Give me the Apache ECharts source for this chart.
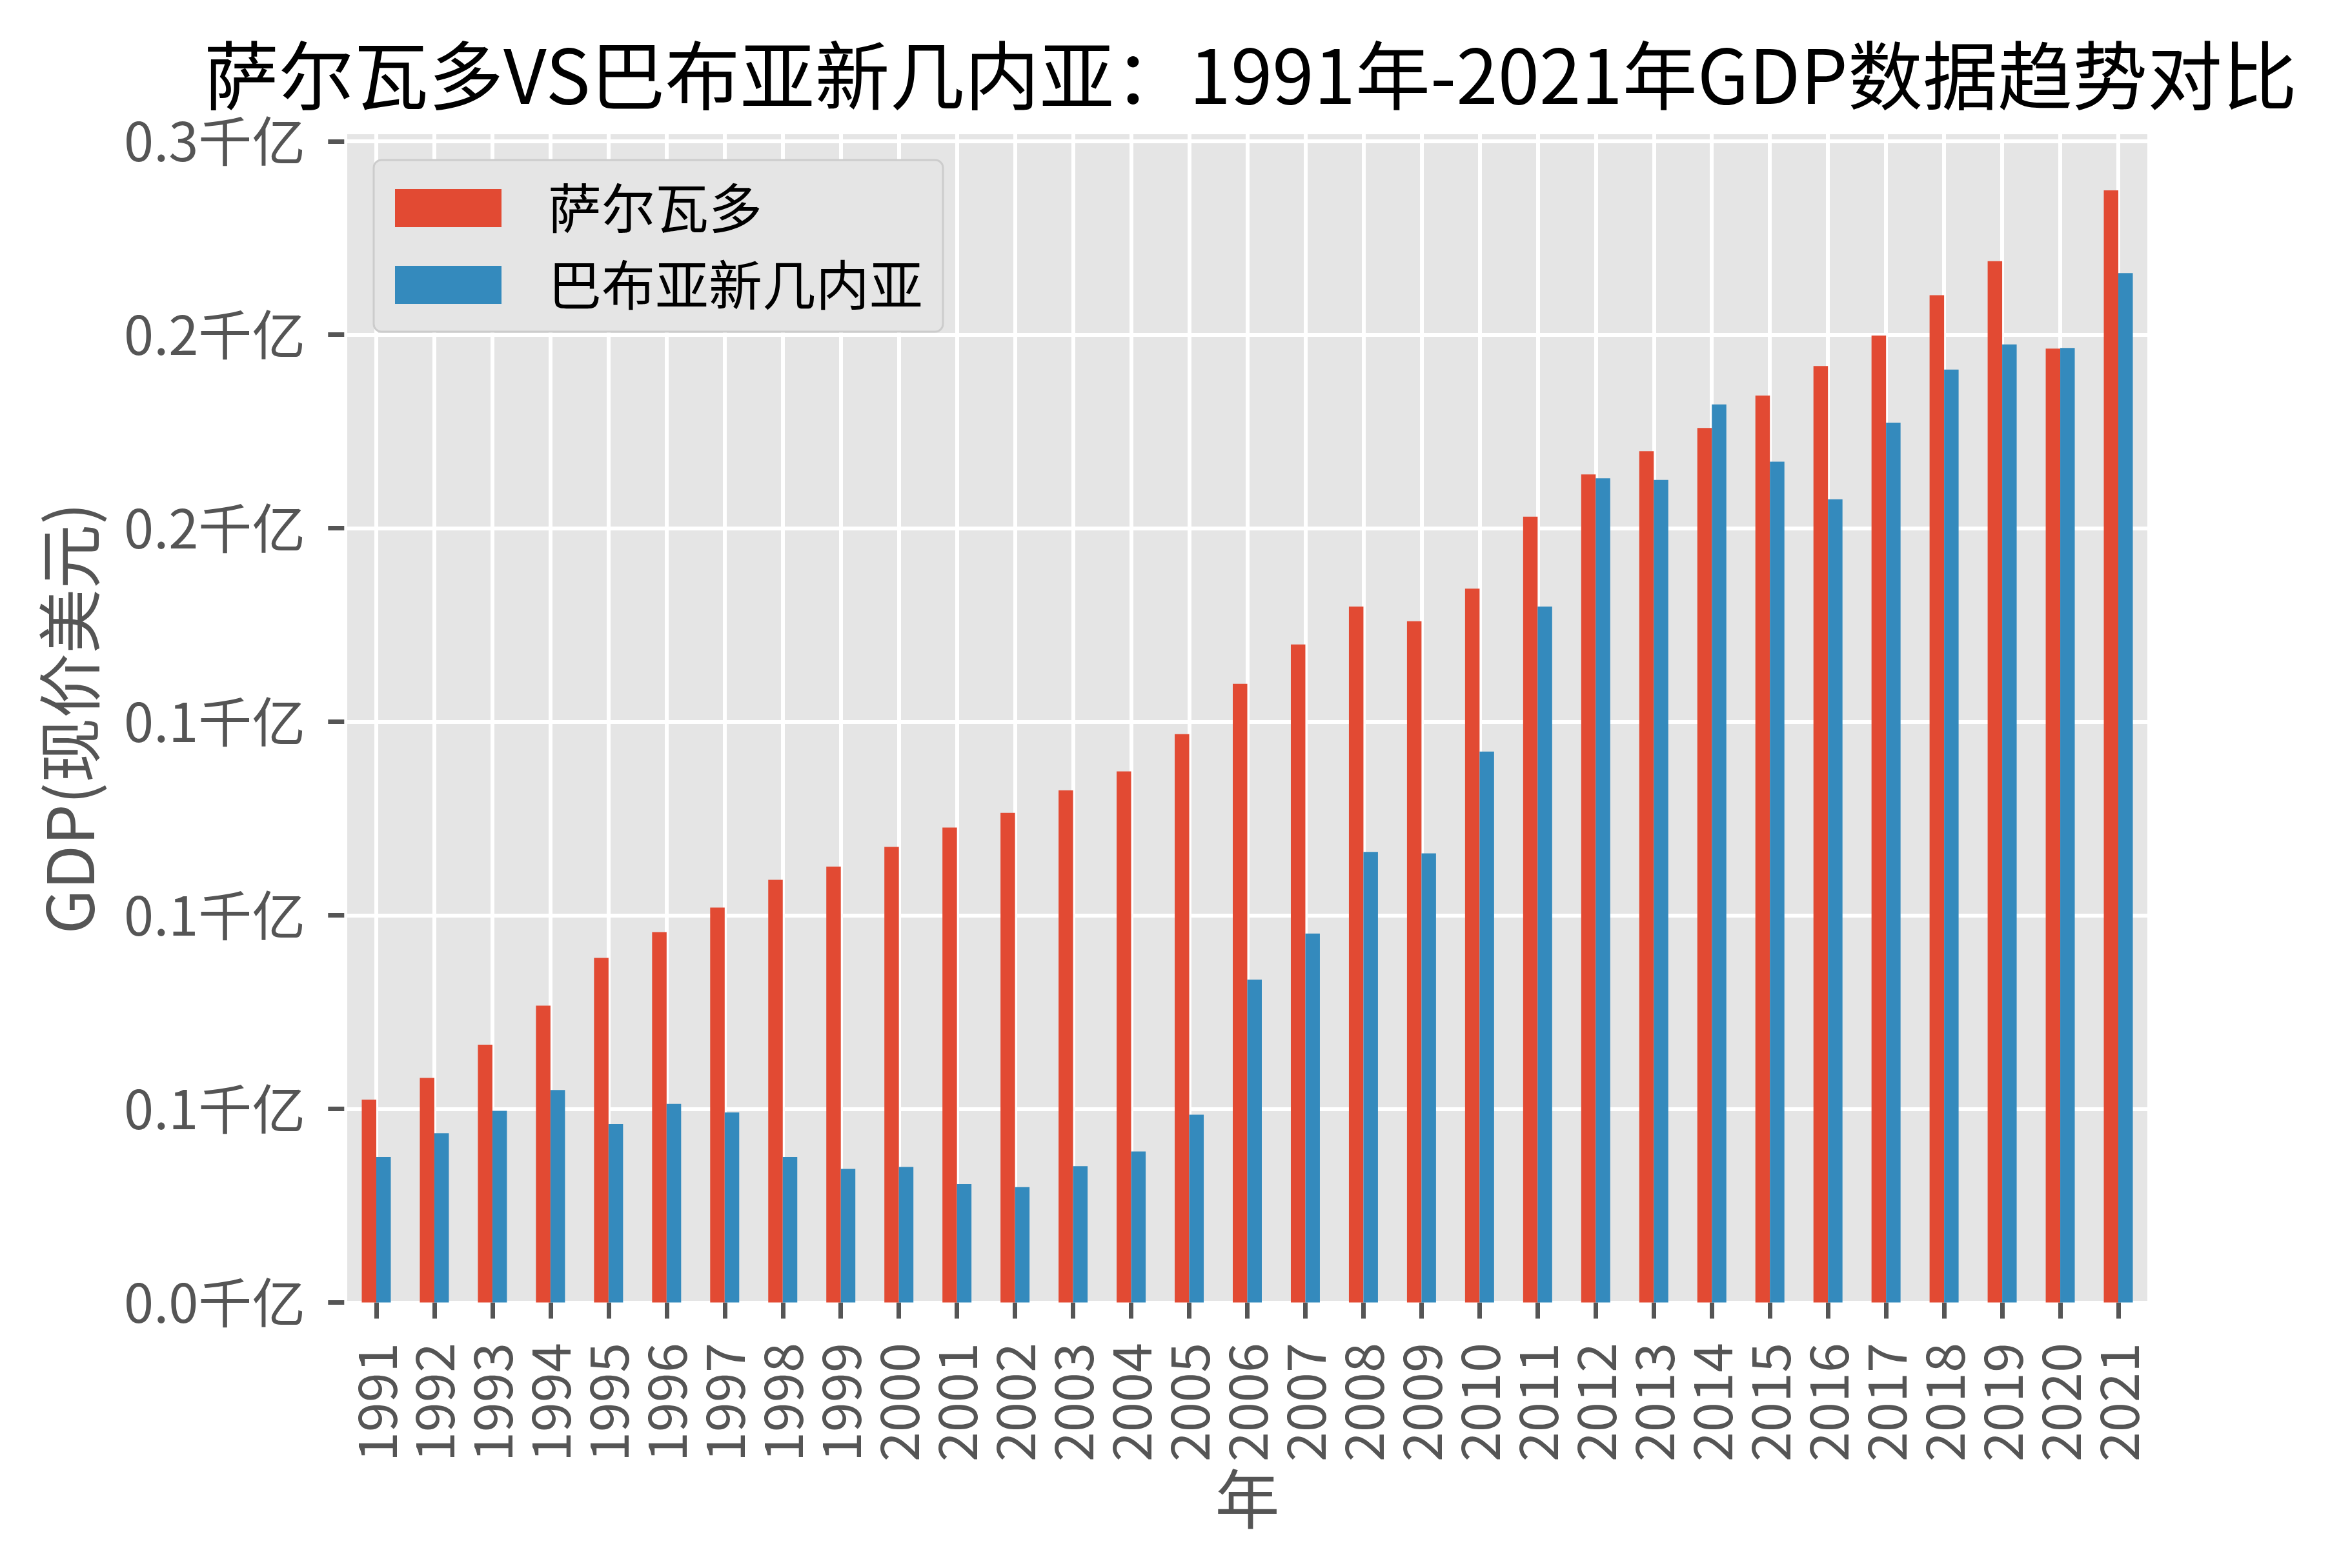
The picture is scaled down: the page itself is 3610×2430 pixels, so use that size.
<!DOCTYPE html>
<html>
<head>
<meta charset="utf-8">
<script src="https://cdn.jsdelivr.net/npm/echarts@6/dist/echarts.min.js"></script>
<style>
html,body{margin:0;padding:0;background:#fff;}
#chart{width:3610px;height:2430px;}
</style>
</head>
<body>
<div id="chart"></div>
<script>
// ---- data (GDP in billions of current USD) ----
const YEARS = ['1991','1992','1993','1994','1995','1996','1997','1998','1999','2000','2001','2002','2003','2004','2005','2006','2007','2008','2009','2010','2011','2012','2013','2014','2015','2016','2017','2018','2019','2020','2021'];
const EL_SALVADOR = [5.24, 5.80, 6.66, 7.67, 8.90, 9.57, 10.20, 10.92, 11.26, 11.77, 12.27, 12.65, 13.23, 13.72, 14.68, 15.98, 17.00, 17.98, 17.60, 18.44, 20.30, 21.39, 21.99, 22.59, 23.43, 24.19, 24.98, 26.02, 26.90, 24.64, 28.73];
const PNG = [3.76, 4.37, 4.95, 5.49, 4.61, 5.13, 4.91, 3.76, 3.45, 3.50, 3.06, 2.98, 3.52, 3.90, 4.85, 8.34, 9.53, 11.64, 11.60, 14.23, 17.98, 21.29, 21.25, 23.20, 21.72, 20.75, 22.73, 24.10, 24.75, 24.66, 26.59];
const SERIES_NAMES = ['萨尔瓦多', '巴布亚新几内亚'];
const Y_TICKS = [0, 5, 10, 15, 20, 25, 30];
const Y_LABELS = ['0.0千亿', '0.1千亿', '0.1千亿', '0.1千亿', '0.2千亿', '0.2千亿', '0.3千亿'];
const TITLE = '萨尔瓦多VS巴布亚新几内亚：1991年-2021年GDP数据趋势对比';
const X_NAME = '年';
const Y_NAME = 'GDP(现价美元)';

const FONT = '"Noto Sans CJK SC", "Noto Sans", sans-serif';
const chart = echarts.init(document.getElementById('chart'), null, {renderer: 'canvas'});

const option = {
  backgroundColor: '#ffffff',
  animation: false,
  title: {
    text: TITLE,
    left: 316,
    top: 57,
    padding: 0,
    textStyle: {fontSize: 116, fontWeight: 'normal', color: '#000000', fontFamily: FONT, lineHeight: 120}
  },
  legend: {
    orient: 'vertical',
    left: 579,
    top: 248,
    padding: [33, 31, 31, 33],
    itemWidth: 165,
    itemHeight: 59,
    itemGap: 36,
    icon: 'rect',
    backgroundColor: '#e5e5e5',
    borderColor: '#cccccc',
    borderWidth: 3,
    borderRadius: 12,
    textStyle: {fontSize: 83, color: '#000000', fontFamily: FONT, lineHeight: 59, padding: [0, 0, 0, 67]},
    data: SERIES_NAMES
  },
  grid: {
    left: 538, right: 283, top: 208, bottom: 411.5,
    show: true, backgroundColor: '#e5e5e5', borderWidth: 0,
    containLabel: false
  },
  xAxis: {
    type: 'category',
    data: YEARS,
    boundaryGap: true,
    offset: 4.5,
    axisLine: {show: false},
    axisTick: {show: true, alignWithLabel: true, length: 25, lineStyle: {color: '#555555', width: 7}},
    axisLabel: {rotate: 90, margin: 58, interval: 0, fontSize: 83, color: '#555555', fontFamily: FONT},
    splitLine: {show: true, alignWithLabel: true, interval: 0, lineStyle: {color: '#ffffff', width: 6}},
    name: X_NAME,
    nameLocation: 'middle',
    nameGap: 248,
    nameTextStyle: {fontSize: 100, color: '#555555', fontFamily: FONT}
  },
  yAxis: {
    type: 'value',
    min: 0,
    max: 30.18,
    interval: 5,
    offset: 4.7,
    axisLine: {show: false},
    axisTick: {show: true, customValues: Y_TICKS, length: 25, lineStyle: {color: '#555555', width: 7}},
    axisLabel: {
      customValues: Y_TICKS,
      margin: 60, fontSize: 83, color: '#555555', fontFamily: FONT,
      formatter: function (v) { const i = Y_TICKS.indexOf(v); return i >= 0 ? Y_LABELS[i] : ''; }
    },
    splitLine: {show: true, lineStyle: {color: '#ffffff', width: 6}},
    name: Y_NAME,
    nameLocation: 'middle',
    nameGap: 375,
    nameTextStyle: {fontSize: 100, color: '#555555', fontFamily: FONT}
  },
  series: [
    {name: SERIES_NAMES[0], type: 'bar', data: EL_SALVADOR, barWidth: '25%', barGap: '0%', itemStyle: {color: '#E24A33'}},
    {name: SERIES_NAMES[1], type: 'bar', data: PNG, barWidth: '25%', barGap: '0%', itemStyle: {color: '#348ABD'}}
  ]
};
chart.setOption(option);
</script>
</body>
</html>
